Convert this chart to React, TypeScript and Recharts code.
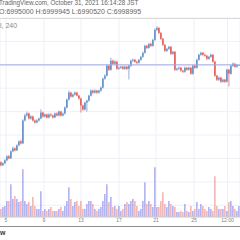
import { ComposedChart, Bar, XAxis, YAxis, CartesianGrid, ReferenceLine, Cell } from "recharts";

// prices in thousands of JPY, one 4h candle per entry
const opens = [
  5335, 5284, 5318, 5369, 5437, 5403, 5522, 5573, 5539, 5624,
  5692, 5658, 6049, 6134, 6168, 6083, 6117, 6049, 6015, 6049,
  6083, 6185, 6117, 6151, 6100, 6151, 6134, 6100, 6168, 6134,
  6202, 6134, 6168, 6270, 6406, 6525, 6457, 6491, 6525, 6474,
  6423, 6304, 6236, 6355, 6389, 6474, 6559, 6525, 6559, 6525,
  6559, 6610, 6763, 6814, 6984, 6916, 7069, 7018, 7052, 6933,
  6950, 6967, 6933, 6967, 6933, 6984, 7069, 7086, 7052, 7035,
  7086, 7137, 7205, 7324, 7290, 7358, 7324, 7426, 7596, 7630,
  7545, 7443, 7341, 7239, 7273, 7307, 7188, 7222, 6916, 6933,
  6950, 6899, 6882, 6950, 6916, 6950, 6848, 6984, 6950, 7086,
  7171, 7205, 7171, 7154, 7103, 7137, 7171, 7052, 6814, 6746,
  6780, 6712, 6746, 6712, 6916, 6848, 6984, 7018, 6967, 6995,
];
const highs = [
  5352, 5335, 5386, 5454, 5460, 5540, 5600, 5590, 5640, 5710,
  5720, 6070, 6165, 6200, 6185, 6140, 6134, 6066, 6070, 6100,
  6240, 6200, 6170, 6168, 6170, 6175, 6150, 6185, 6190, 6220,
  6215, 6185, 6290, 6425, 6560, 6540, 6510, 6545, 6540, 6490,
  6440, 6320, 6370, 6405, 6490, 6580, 6575, 6580, 6570, 6575,
  6630, 6780, 6840, 7010, 7000, 7120, 7090, 7080, 7070, 6970,
  6985, 6985, 6985, 6980, 7000, 7090, 7105, 7100, 7070, 7100,
  7155, 7225, 7345, 7340, 7375, 7380, 7445, 7620, 7660, 7645,
  7560, 7460, 7355, 7290, 7325, 7320, 7240, 7235, 6955, 6970,
  6965, 6915, 6970, 6965, 6970, 6965, 7000, 7000, 7105, 7190,
  7225, 7220, 7190, 7170, 7155, 7190, 7185, 7070, 6830, 6800,
  6795, 6765, 6760, 6935, 6930, 7000, 7040, 7030, 7010, 6999.945,
];
const lows = [
  5267, 5270, 5301, 5352, 5386, 5390, 5505, 5520, 5525, 5610,
  5640, 5645, 6030, 6115, 6066, 6060, 6030, 5995, 6000, 6030,
  6070, 6100, 6100, 6083, 6085, 6115, 6080, 6090, 6120, 6120,
  6115, 6120, 6150, 6255, 6390, 6440, 6440, 6475, 6460, 6405,
  6185, 6215, 6220, 6202, 6370, 6460, 6505, 6510, 6505, 6510,
  6540, 6595, 6745, 6800, 6895, 6900, 7000, 7000, 6915, 6915,
  6930, 6915, 6915, 6910, 6750, 6965, 7050, 7035, 7015, 7020,
  7070, 7120, 7190, 7270, 7275, 7305, 7310, 7410, 7575, 7525,
  7425, 7320, 7220, 7220, 7255, 7170, 7170, 6895, 6895, 6915,
  6880, 6860, 6865, 6900, 6900, 6830, 6830, 6930, 6935, 7070,
  7155, 7155, 7135, 7085, 7085, 7120, 7035, 6795, 6725, 6725,
  6690, 6695, 6690, 6700, 6630, 6830, 6965, 6950, 6950, 6990.52,
];
const closes = [
  5284, 5318, 5369, 5437, 5403, 5522, 5573, 5539, 5624, 5692,
  5658, 6049, 6134, 6168, 6083, 6117, 6049, 6015, 6049, 6083,
  6185, 6117, 6151, 6100, 6151, 6134, 6100, 6168, 6134, 6202,
  6134, 6168, 6270, 6406, 6525, 6457, 6491, 6525, 6474, 6423,
  6304, 6236, 6355, 6389, 6474, 6559, 6525, 6559, 6525, 6559,
  6610, 6763, 6814, 6984, 6916, 7069, 7018, 7052, 6933, 6950,
  6967, 6933, 6967, 6933, 6984, 7069, 7086, 7052, 7035, 7086,
  7137, 7205, 7324, 7290, 7358, 7324, 7426, 7596, 7630, 7545,
  7443, 7341, 7239, 7273, 7307, 7188, 7222, 6916, 6933, 6950,
  6899, 6882, 6950, 6916, 6950, 6848, 6984, 6950, 7086, 7171,
  7205, 7171, 7154, 7103, 7137, 7171, 7052, 6814, 6746, 6780,
  6712, 6746, 6712, 6916, 6848, 6984, 7018, 6967, 6995, 6998.995,
];
const volumes = [
  160, 200, 220, 320, 320, 660, 360, 420, 360, 300,
  320, 960, 320, 260, 300, 220, 400, 220, 160, 160,
  520, 120, 160, 120, 160, 200, 120, 120, 120, 160,
  200, 120, 220, 320, 600, 360, 220, 300, 320, 220,
  320, 160, 160, 260, 320, 320, 260, 160, 120, 160,
  200, 320, 460, 660, 300, 400, 200, 220, 160, 220,
  120, 160, 260, 300, 260, 320, 360, 320, 220, 120,
  160, 320, 700, 260, 320, 260, 200, 1000, 200, 200,
  320, 500, 260, 200, 320, 260, 220, 200, 100, 100,
  120, 100, 260, 120, 100, 220, 120, 160, 300, 160,
  260, 220, 160, 120, 200, 160, 120, 820, 220, 160,
  160, 160, 220, 120, 300, 320, 220, 160, 120, 220,
];

const xTicks = [2.5, 21.5, 40, 59, 77.5, 96.5, 113.25];
const xTickLabels = ["5", "9", "13", "17", "21", "25", "12:00"];
const priceTicks = [
  4400, 4600, 4800, 5000, 5200, 5400, 5600, 5800, 6000,
  6200, 6400, 6600, 6800, 7000, 7200, 7400, 7600, 7800,
];
const lastPrice = 6998.995;

const UP = "#5b8ecb";
const DOWN = "#ef5350";
const VOL_UP = "#8383f6";
const VOL_DOWN = "#f68585";
const FONT = "'Liberation Sans', Arial, sans-serif";

const data = closes.map((c, i) => ({
  i,
  o: opens[i],
  h: highs[i],
  l: lows[i],
  c,
  v: volumes[i],
}));

function Candle(props: any) {
  const { x, y, width, height, payload } = props;
  if (x == null || y == null) return null;
  const top = Math.min(y, y + height);
  const hgt = Math.abs(height);
  const span = payload.h - payload.l || 1;
  const py = (v: number) => top + ((payload.h - v) / span) * hgt;
  const up = payload.c >= payload.o;
  const color = up ? UP : DOWN;
  const cx = x + width / 2;
  const bTop = py(Math.max(payload.o, payload.c));
  const bBot = py(Math.min(payload.o, payload.c));
  const bw = 1.5;
  return (
    <g>
      <line x1={cx} x2={cx} y1={top} y2={top + hgt} stroke={color} strokeWidth={0.7} />
      <rect x={cx - bw / 2} y={bTop} width={bw} height={Math.max(bBot - bTop, 0.8)} fill={color} />
    </g>
  );
}

export default function App() {
  return (
    <div
      style={{
        position: "fixed",
        left: 0,
        top: 0,
        width: 240,
        height: 240,
        overflow: "hidden",
        background: "#fff",
        fontFamily: FONT,
      }}
    >
      <div style={{ position: "absolute", left: 0, top: 0 }}>
        <ComposedChart
          width={240}
          height={240}
          data={data}
          margin={{ top: 18, right: 0, bottom: 15, left: 0 }}
          barCategoryGap="20%"
        >
          <CartesianGrid xAxisId="p" yAxisId="p" stroke="#edf0f6" strokeWidth={1} />
          <XAxis
            xAxisId="p"
            dataKey="i"
            type="number"
            domain={[-0.5, 119.5]}
            ticks={xTicks}
            tickFormatter={(v) => xTickLabels[xTicks.indexOf(v)] ?? ""}
            height={8}
            interval={0}
            axisLine={{ stroke: "#cfcfcf" }}
            tickLine={{ stroke: "#bbb" }}
            tickSize={1}
            tickMargin={0}
            tick={{ fontSize: 5, fill: "#808080", fontFamily: FONT }}
          />
          <XAxis xAxisId="v" dataKey="i" type="number" domain={[-0.5, 119.5]} hide />
          <YAxis yAxisId="p" type="number" domain={[4400, 7800]} ticks={priceTicks} hide />
          <YAxis yAxisId="v" type="number" domain={[0, 4000]} hide />
          <Bar xAxisId="v" yAxisId="v" dataKey="v" isAnimationActive={false}>
            {data.map((d) => (
              <Cell key={d.i} fill={d.c >= d.o ? VOL_UP : VOL_DOWN} />
            ))}
          </Bar>
          <ReferenceLine xAxisId="p" yAxisId="p" y={lastPrice} stroke="#a3a6f2" strokeWidth={1} />
          <Bar
            xAxisId="p"
            yAxisId="p"
            dataKey={(d: any) => [d.l, d.h]}
            shape={(p: any) => <Candle {...p} />}
            isAnimationActive={false}
          />
        </ComposedChart>
      </div>
      <div
        style={{
          position: "absolute",
          left: -1,
          top: -0.5,
          fontSize: 6.3,
          lineHeight: "6.3px",
          color: "#666",
          whiteSpace: "nowrap",
        }}
      >
        TradingView.com, October 31, 2021 16:14:28 JST
      </div>
      <div
        style={{
          position: "absolute",
          left: -1,
          top: 8,
          fontSize: 7,
          lineHeight: "7px",
          color: "#666",
          whiteSpace: "nowrap",
        }}
      >
        O:6995000 H:6999945 L:6990520 C:6998995
      </div>
      <div style={{ position: "absolute", left: 0, top: 17.5, width: 240, height: 1, background: "#d9d9d9" }} />
      <div
        style={{
          position: "absolute",
          left: 0,
          top: 22,
          fontSize: 7,
          lineHeight: "7px",
          color: "#8a8a8a",
          whiteSpace: "nowrap",
        }}
      >
        l, 240
      </div>
      <div style={{ position: "absolute", left: 0, top: 225.5, width: 240, height: 1, background: "#8f8f8f" }} />
      <div
        style={{
          position: "absolute",
          left: 0,
          top: 229,
          fontSize: 7,
          lineHeight: "7px",
          fontWeight: "bold",
          color: "#3a3a3a",
          whiteSpace: "nowrap",
        }}
      >
        w
      </div>
    </div>
  );
}
